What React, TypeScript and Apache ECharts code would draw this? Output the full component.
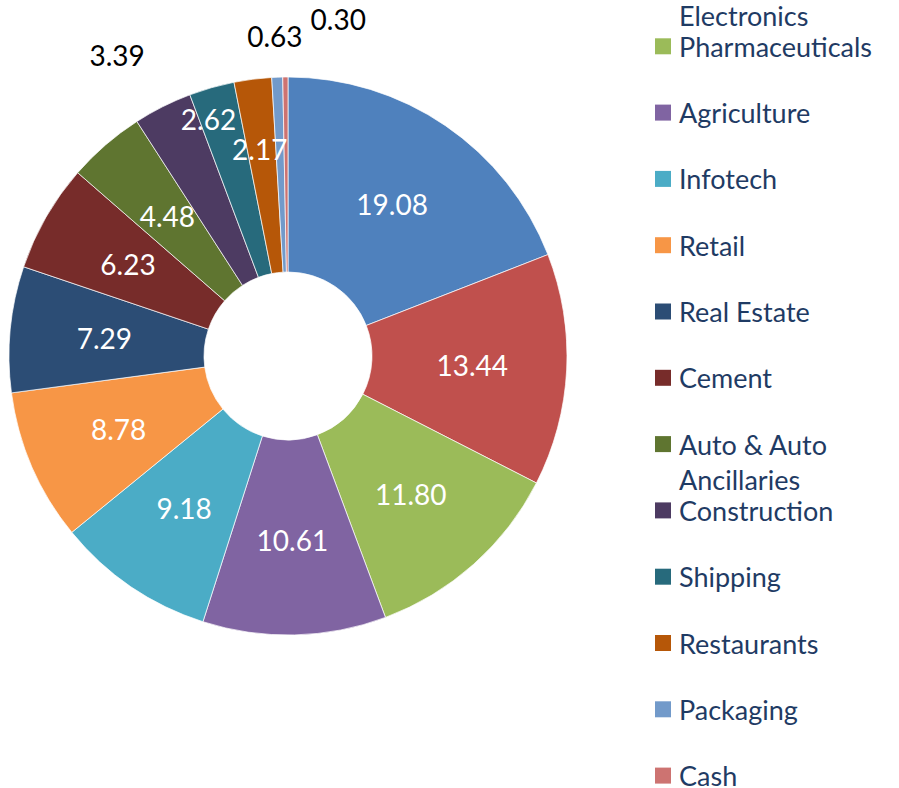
import React, { useEffect, useRef } from "react";
import * as echarts from "echarts";

// ---- data ----
const sectors: string[] = [
  "Banks",
  "Consumer\nElectronics",
  "Pharmaceuticals",
  "Agriculture",
  "Infotech",
  "Retail",
  "Real Estate",
  "Cement",
  "Auto & Auto\nAncillaries",
  "Construction",
  "Shipping",
  "Restaurants",
  "Packaging",
  "Cash",
];
const weights: number[] = [
  19.08, 13.44, 11.8, 10.61, 9.18, 8.78, 7.29, 6.23, 4.48, 3.39, 2.62, 2.17, 0.63, 0.3,
];

// ---- styles ----
const sliceColors: string[] = [
  "#4F81BD", "#C0504D", "#9BBB59", "#8064A2", "#4BACC6", "#F79646",
  "#2C4D75", "#772C2A", "#5F7530", "#4D3B62", "#276A7C", "#B65708",
  "#729ACA", "#CD7371",
];
// labels placed outside the ring (dark text)
const outsideLabels: string[] = ["Construction", "Packaging", "Cash"];
// label nudges (dx, dy) relative to the default in-ring position
const labelNudge: Record<string, [number, number]> = {
  Construction: [-88, -136],
  Shipping: [-29, -60],
  Restaurants: [-5, -24],
  Packaging: [-6, -136],
  Cash: [52, -153],
};

const FONT = "Lato";
const LEGEND_LINE = 35;
const LEGEND_PITCH = 66.3;

export default function App() {
  const ref = useRef<HTMLDivElement>(null);

  useEffect(() => {
    if (!ref.current) return;
    const chart = echarts.init(ref.current, undefined, { renderer: "svg" });

    const data = sectors.map((name, i) => ({
      name,
      value: weights[i],
      itemStyle: { color: sliceColors[i] },
      label: outsideLabels.includes(name) ? { color: "#000000" } : undefined,
    }));

    chart.setOption({
      animation: false,
      backgroundColor: "#ffffff",
      legend: {
        orient: "vertical",
        left: 655,
        top: 46.3 - 2 * LEGEND_PITCH - 1.5 * LEGEND_LINE,
        width: 240,
        height: 1400,
        padding: 0,
        itemWidth: 16,
        itemHeight: 16,
        itemGap: LEGEND_PITCH - 3 * LEGEND_LINE,
        icon: "rect",
        selectedMode: false,
        data: sectors,
        itemStyle: { borderWidth: 0 },
        // three-line block: blank line above so the name's first line sits level with the swatch
        formatter: (name: string) => "\n" + (name.includes("\n") ? name : name + "\n"),
        textStyle: {
          fontFamily: FONT,
          fontSize: 27,
          color: "#1F3B64",
          lineHeight: LEGEND_LINE,
          padding: [0, 0, 0, 3],
        },
      },
      series: [
        {
          type: "pie",
          center: [288, 356],
          radius: [84, 279],
          startAngle: 90,
          clockwise: true,
          avoidLabelOverlap: false,
          silent: true,
          itemStyle: { borderColor: "#ffffff", borderWidth: 0.7 },
          label: {
            show: true,
            position: "inside",
            color: "#ffffff",
            fontFamily: FONT,
            fontSize: 28,
            formatter: (p: any) => Number(p.value).toFixed(2),
          },
          labelLine: { show: false },
          labelLayout: (p: any) => {
            const n = labelNudge[sectors[p.dataIndex]];
            return n ? { dx: n[0], dy: n[1] } : {};
          },
          data,
        },
      ],
    });

    return () => chart.dispose();
  }, []);

  return (
    <div
      ref={ref}
      style={{ position: "fixed", left: 0, top: 0, width: 899, height: 788 }}
    />
  );
}
